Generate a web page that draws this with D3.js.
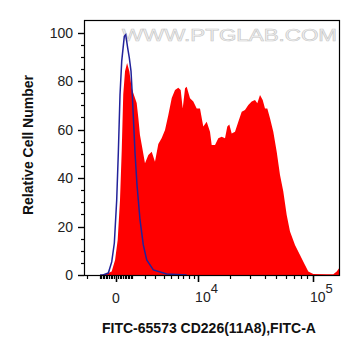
<!DOCTYPE html>
<html><head><meta charset="utf-8">
<script src="https://cdn.jsdelivr.net/npm/d3@7"></script>
<style>html,body{margin:0;padding:0;background:#fff;}svg{display:block;font-family:"Liberation Sans",Arial,sans-serif;}</style>
</head><body>
<svg id="c" width="361" height="356"></svg>
<script>
// FITC-A intensity (bin positions) and relative cell number, sample (red)
const redX = [-2300,-980,-710,-440,-240,-50,90,220,320,410,520,650,800,960,1150,1330,1460,1590,1740,2020,2330,2660,3000,3370,3770,4180,4620,5100,5590,6110,6510,6860,7280,7590,8240,8930,9680,10450,11270,12170,13100,13600,14620,15700,16870,18090,18980,19790,20790,22250,23800,25490,27230,29090,31110,33200,34730,36620,38590,40350,42190,44440,47350,50530,53820,57300,61110,65050,71460,78490,86180,91650,100600,128900,145600,155000,164700];
const redY = [0,0,0.2,0.8,1.4,6.2,14.4,30.9,51.5,74.4,84.0,87.4,84.0,77.1,73.8,70.9,64.7,57.7,53.6,46.1,49.5,50.8,46.7,54.0,56.5,59.8,66.0,73.0,76.3,77.2,76.3,68.7,77.0,77.6,72.9,71.5,68.7,68.7,61.2,63.2,59.1,53.6,53.6,56.4,57.0,56.4,61.2,62.1,58.4,59.1,63.2,67.3,68.0,70.1,71.5,72.2,70.8,74.2,72.2,68.7,68.7,64.6,59.1,50.8,41.2,34.4,24.7,17.9,12.4,8.2,4.1,1.4,0.4,0.3,0.3,1.4,3.3];
// control (blue line)
const blueX = [-980,-778,-438,-237,-90,37,125,220,319,475,563,691,798,914,1006,1107,1203,1355,1594,1872,2177,2825,4402,7594];
const blueY = [0,0,0.8,5.4,13.2,30.9,50.3,74.2,88.2,98.4,99.1,93.6,89.5,84.1,74.2,61.9,50.3,37.1,22.7,12.4,6.2,2.1,0.4,0];
const yTicks = [0,20,40,60,80,100];
const xMajor = [0,1e4,1e5];
const xMinor = [-2000,-1000,-900,-800,-700,-600,-500,-400,-300,-200,-100,100,200,300,400,500,600,700,800,900,1000,2000,3000,4000,5000,6000,7000,8000,9000,20000,30000,40000,50000,60000,70000,80000,90000];
const xTitle = "FITC-65573 CD226(11A8),FITC-A";
const yTitle = "Relative Cell Number";
const watermark = "WWW.PTGLAB.COM";

const L=84,R=340,T=20,B=276;
const svg = d3.select("#c");
const x = d3.scaleSymlog().constant(2940).domain([-2300,164700]).range([L,R]);
const y = d3.scaleLinear().domain([0,100]).range([275,32.5]);

svg.append("defs").append("clipPath").attr("id","clip").append("rect")
  .attr("x",L).attr("y",T).attr("width",R-L).attr("height",B-T);

// watermark
svg.append("text").attr("x",122).attr("y",41).attr("textLength",215).attr("lengthAdjust","spacingAndGlyphs")
  .attr("font-size",16).attr("fill","#f4f4f4").attr("stroke","#c9c9c9").attr("stroke-width",0.6)
  .text(watermark);

const g = svg.append("g").attr("clip-path","url(#clip)");
const red = redX.map((v,i)=>[v,redY[i]]);
const blue = blueX.map((v,i)=>[v,blueY[i]]);
g.append("path").datum(red)
  .attr("d", d3.area().x(d=>x(d[0])).y0(y(0)).y1(d=>y(d[1])))
  .attr("fill","#ff0000");
g.append("path").datum(blue)
  .attr("d", d3.line().x(d=>x(d[0])).y(d=>y(d[1])))
  .attr("fill","none").attr("stroke","#22229a").attr("stroke-width",1.5);

// frame
svg.append("rect").attr("x",L+0.5).attr("y",T+0.5).attr("width",R-L-1).attr("height",B-T-1)
  .attr("fill","none").attr("stroke","#000").attr("stroke-width",1.2);

// y axis
const yMinor = d3.range(0,101,5).filter(v=>v%20!==0);
svg.append("g").selectAll("line").data(yMinor).join("line")
  .attr("x1",L-3).attr("x2",L).attr("y1",d=>Math.round(y(d))+0.5).attr("y2",d=>Math.round(y(d))+0.5)
  .attr("stroke","#000").attr("stroke-width",1.2);
svg.append("g").selectAll("line").data(yTicks).join("line")
  .attr("x1",L-6).attr("x2",L).attr("y1",d=>Math.round(y(d))+0.5).attr("y2",d=>Math.round(y(d))+0.5)
  .attr("stroke","#000").attr("stroke-width",1.4);
svg.append("g").selectAll("text").data(yTicks).join("text")
  .attr("x",73).attr("y",d=>y(d)+5).attr("text-anchor","end").attr("font-size",14).attr("fill","#222")
  .text(d=>d);

// x axis
svg.append("g").selectAll("line").data(xMinor).join("line")
  .attr("x1",d=>Math.round(x(d))+0.5).attr("x2",d=>Math.round(x(d))+0.5).attr("y1",B).attr("y2",B+3)
  .attr("stroke","#000").attr("stroke-width",1.2);
svg.append("g").selectAll("line").data(xMajor).join("line")
  .attr("x1",d=>Math.round(x(d))+0.5).attr("x2",d=>Math.round(x(d))+0.5).attr("y1",B).attr("y2",B+6)
  .attr("stroke","#000").attr("stroke-width",1.6);
const xl = svg.append("g").attr("font-size",14).attr("fill","#222");
xl.append("text").attr("x",x(0)).attr("y",303).attr("text-anchor","middle").text("0");
[[1e4,"4"],[1e5,"5"]].forEach(([v,e])=>{
  const t = xl.append("text").attr("x",x(v)-3).attr("y",302);
  t.append("tspan").text("10");
  t.append("tspan").attr("dy",-9).attr("font-size",13).text(e);
});

// titles
svg.append("text").attr("x",209).attr("y",333).attr("text-anchor","middle")
  .attr("font-size",14).attr("font-weight","bold").attr("fill","#111").text(xTitle);
svg.append("text").attr("transform","translate(33,145) rotate(-90)").attr("text-anchor","middle")
  .attr("font-size",14).attr("font-weight","bold").attr("fill","#111").text(yTitle);
</script>
</body></html>
